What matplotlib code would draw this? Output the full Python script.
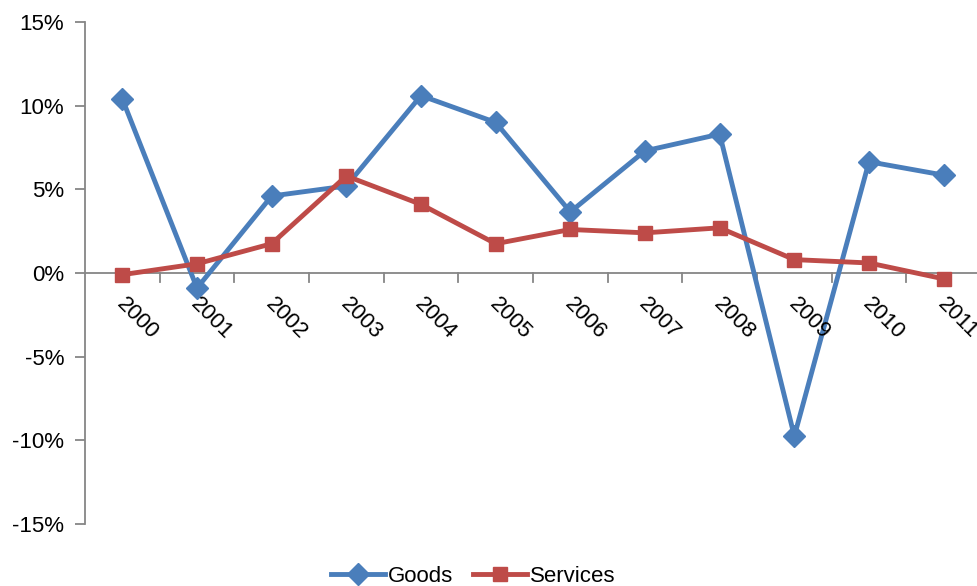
import matplotlib.pyplot as plt
import numpy as np

years = ['2000', '2001', '2002', '2003', '2004', '2005', '2006', '2007', '2008', '2009', '2010', '2011']
goods = [10.4, -0.9, 4.6, 5.2, 10.6, 9.0, 3.65, 7.3, 8.3, -9.75, 6.65, 5.85]
services = [-0.1, 0.55, 1.75, 5.8, 4.1, 1.75, 2.6, 2.4, 2.7, 0.8, 0.6, -0.35]

plt.rcParams['font.family'] = ['Liberation Sans', 'DejaVu Sans']

fig = plt.figure(figsize=(9.78, 5.86), dpi=100)
ax = fig.add_axes([85 / 978, (586 - 524) / 586, (981 - 85) / 978, (524 - 22) / 586])

x = np.arange(len(years))
ax.plot(x, goods, color='#4a7ebb', lw=3.5, marker='D', ms=11, label='Goods', clip_on=False, zorder=3)
ax.plot(x, services, color='#be4b48', lw=3.5, marker='s', ms=10, label='Services', clip_on=False, zorder=4)

ax.set_xlim(-0.5, len(years) - 0.5)
ax.set_ylim(-15, 15)
ax.set_yticks([-15, -10, -5, 0, 5, 10, 15])
ax.set_yticklabels(['-15%', '-10%', '-5%', '0%', '5%', '10%', '15%'], fontsize=16)

for s in ['top', 'right', 'bottom']:
    ax.spines[s].set_visible(False)
ax.spines['left'].set_color('#868686')
ax.spines['left'].set_linewidth(1.3)
ax.tick_params(axis='y', color='#868686', length=7, width=1.3, pad=8)

# x axis drawn at zero with ticks between categories
ax.axhline(0, color='#868686', lw=1.3, zorder=1)
ax.set_xticks([])
for b in np.arange(0.5, len(years) - 0.5, 1):
    ax.plot([b, b], [0, -0.55], color='#868686', lw=1.3, zorder=1)
for i, yr in enumerate(years):
    ax.text(i + 0.06, -1.25, yr, rotation=-45, rotation_mode='anchor', ha='left', va='top',
            fontsize=16, clip_on=False)

leg = fig.legend(loc='lower center', bbox_to_anchor=(0.484, -0.035), ncol=2, frameon=False,
                 fontsize=16, handlelength=2.4, columnspacing=0.9, handletextpad=0.15)

fig.savefig('out.png', dpi=100)
